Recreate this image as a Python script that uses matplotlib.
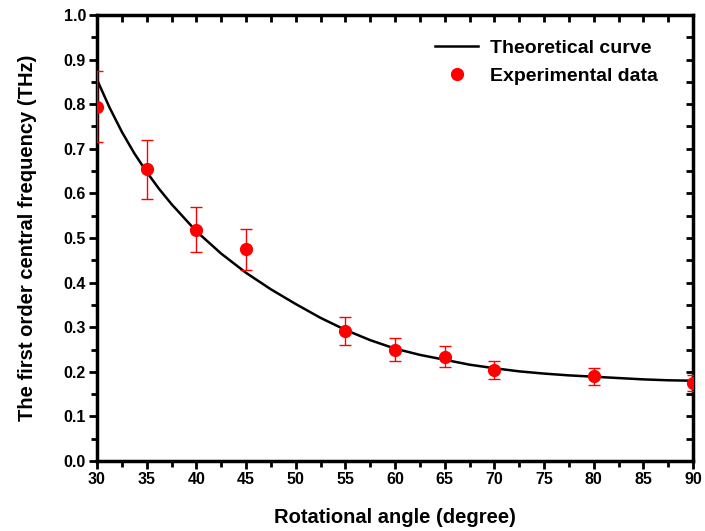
"""Central frequency vs rotational angle: theory curve and measured points."""

import matplotlib
matplotlib.use("Agg")
import matplotlib.pyplot as plt
from matplotlib.ticker import MultipleLocator
import numpy as np

plt.rcParams.update({
    "font.family": "Liberation Sans",
    "font.weight": "bold",
    "axes.labelweight": "bold",
})

# theoretical curve
theory_angle = [30, 31.25, 32.5, 33.75, 35, 36.25, 37.5, 40, 42.5, 45, 47.5, 50,
                52.5, 55, 57.5, 60, 62.5, 65, 67.5, 70, 72.5, 75, 77.5, 80,
                82.5, 85, 87.5, 90]
theory_freq = [0.855, 0.793, 0.738, 0.690, 0.648, 0.610, 0.576, 0.515, 0.465,
               0.422, 0.385, 0.352, 0.321, 0.294, 0.271, 0.252, 0.238, 0.227,
               0.216, 0.208, 0.201, 0.196, 0.192, 0.189, 0.186, 0.183, 0.181, 0.180]

# measured points with error bar ends
exp_angle = [30, 35, 40, 45, 55, 60, 65, 70, 80, 90]
exp_freq = [0.794, 0.654, 0.519, 0.475, 0.292, 0.249, 0.234, 0.204, 0.190, 0.176]
exp_low = [0.715, 0.588, 0.468, 0.428, 0.260, 0.224, 0.210, 0.183, 0.170, 0.158]
exp_high = [0.874, 0.720, 0.570, 0.521, 0.323, 0.275, 0.257, 0.225, 0.209, 0.193]

fig = plt.figure(figsize=(7.05, 5.31), dpi=100)
ax = fig.add_axes([0.1376, 0.1318, 0.8454, 0.84])

ax.plot(theory_angle, theory_freq, color="black", lw=1.8, label="Theoretical curve", zorder=2)

freq = np.array(exp_freq)
yerr = [freq - np.array(exp_low), np.array(exp_high) - freq]
ax.errorbar(exp_angle, exp_freq, yerr=yerr, fmt="none", ecolor="red", elinewidth=1,
            capsize=4, capthick=1, zorder=3)
ax.plot(exp_angle, exp_freq, "o", color="red", ms=8.5, label="Experimental data", zorder=4)

ax.set_xlim(30, 90)
ax.set_ylim(0, 1.0)
ax.xaxis.set_major_locator(MultipleLocator(5))
ax.xaxis.set_minor_locator(MultipleLocator(2.5))
ax.yaxis.set_major_locator(MultipleLocator(0.1))
ax.yaxis.set_minor_locator(MultipleLocator(0.05))
ax.set_xticklabels([f"{v:g}" for v in ax.get_xticks()])
ax.set_yticklabels([f"{v:.1f}" for v in ax.get_yticks()])

for s in ax.spines.values():
    s.set_linewidth(2.5)

ax.tick_params(which="both", direction="out", width=2, labelsize=11.5, pad=2)
ax.tick_params(which="major", length=6)
ax.tick_params(which="minor", length=4)
# inward ticks on the top and right edges, no labels
ax2 = ax.secondary_xaxis("top")
ax2.xaxis.set_major_locator(MultipleLocator(2.5))
ax2.tick_params(direction="in", length=5, width=2, labeltop=False)
ax3 = ax.secondary_yaxis("right")
ax3.yaxis.set_major_locator(MultipleLocator(0.05))
ax3.tick_params(direction="in", length=5, width=2, labelright=False)

ax.set_xlabel("Rotational angle (degree)", fontsize=14.5, labelpad=15)
ax.set_ylabel("The first order central frequency (THz)", fontsize=14.5, labelpad=19)

leg = ax.legend(loc="upper right", frameon=False, fontsize=14, bbox_to_anchor=(0.97, 0.985),
                handlelength=2.2, handletextpad=0.6, labelspacing=0.55)

fig.savefig("out.png", dpi=100)
